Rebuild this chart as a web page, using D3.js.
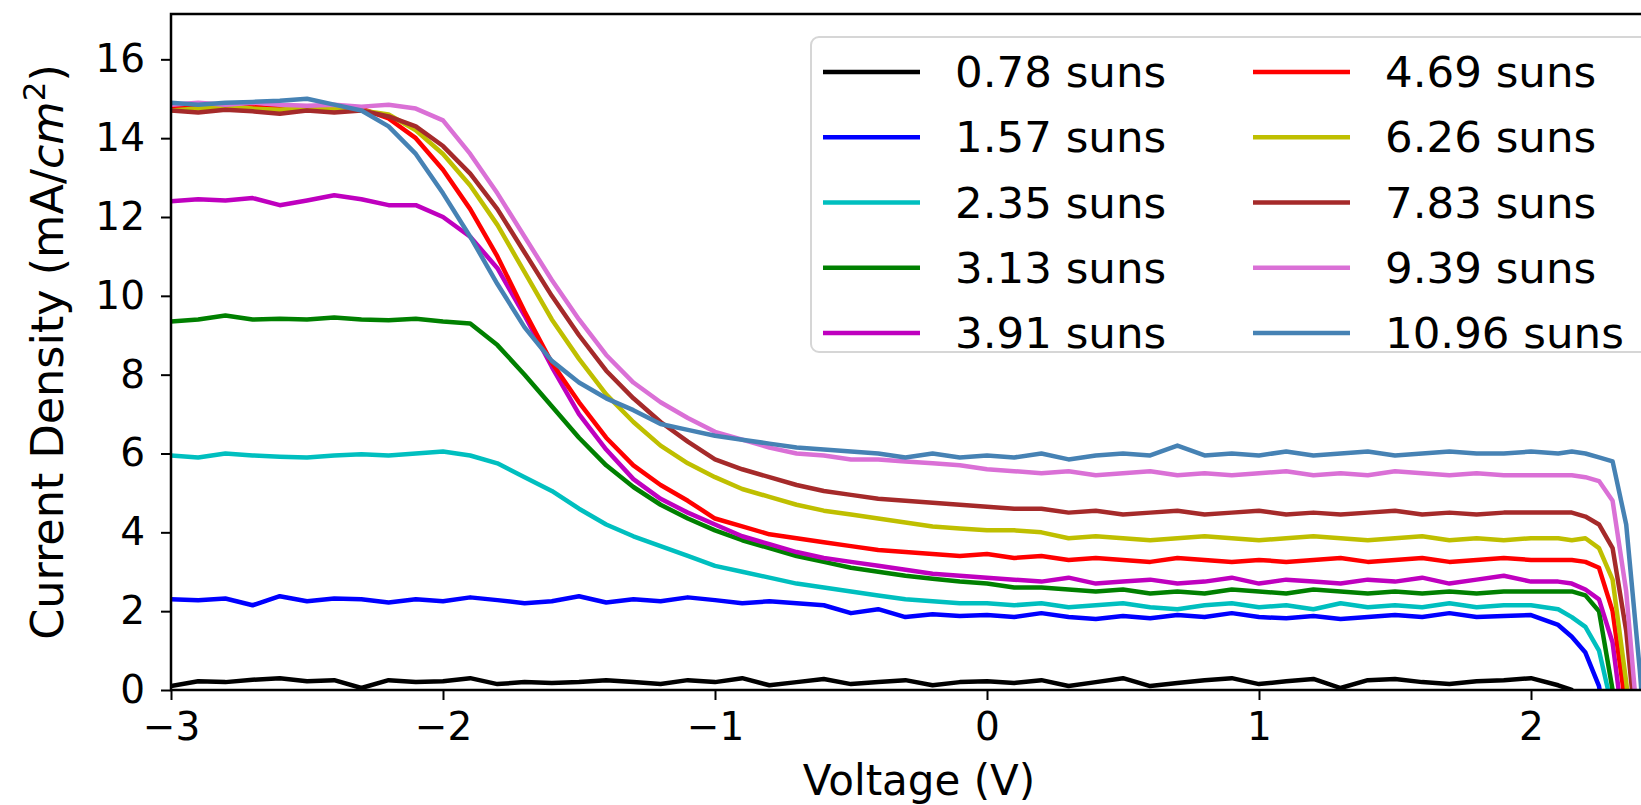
<!DOCTYPE html>
<html>
<head>
<meta charset="utf-8">
<script src="https://cdn.jsdelivr.net/npm/d3@7"></script>
<style>
  html, body { margin: 0; padding: 0; background: #fff; }
  svg { display: block; font-family: "DejaVu Sans", sans-serif; }
</style>
</head>
<body>
<svg id="chart"></svg>
<script>
// bias voltage (V), finer steps near the cut-off
const voltage = [-3.0,-2.9,-2.8,-2.7,-2.6,-2.5,-2.4,-2.3,-2.2,-2.1,
  -2.0,-1.9,-1.8,-1.7,-1.6,-1.5,-1.4,-1.3,-1.2,-1.1,
  -1.0,-0.9,-0.8,-0.7,-0.6,-0.5,-0.4,-0.3,-0.2,-0.1,
  0.0,0.1,0.2,0.3,0.4,0.5,0.6,0.7,0.8,0.9,
  1.0,1.1,1.2,1.3,1.4,1.5,1.6,1.7,1.8,1.9,
  2.0,2.1,2.15,2.2,2.25,2.3,2.35,2.4,2.45,2.5];

// current density (mA/cm2) per illumination level
const j078 = [0.10,0.22,0.20,0.26,0.30,0.22,0.25,0.05,0.25,0.20,
  0.22,0.30,0.15,0.20,0.18,0.20,0.25,0.20,0.15,0.25,
  0.20,0.30,0.12,0.20,0.28,0.15,0.20,0.25,0.12,0.20,
  0.22,0.18,0.25,0.10,0.20,0.30,0.10,0.18,0.25,0.30,
  0.15,0.22,0.28,0.05,0.25,0.28,0.20,0.15,0.22,0.25,
  0.30,0.12,0.00,-0.60,-1.5,-3.0,-5.0,-7.0,-9.0,-11.0];
const j157 = [2.30,2.28,2.32,2.15,2.38,2.25,2.32,2.30,2.22,2.30,
  2.25,2.35,2.28,2.20,2.25,2.38,2.22,2.30,2.25,2.35,
  2.28,2.20,2.25,2.20,2.15,1.95,2.05,1.85,1.92,1.88,
  1.90,1.85,1.95,1.85,1.80,1.88,1.82,1.90,1.85,1.95,
  1.85,1.82,1.88,1.80,1.85,1.90,1.85,1.95,1.85,1.88,
  1.90,1.65,1.35,0.95,0.10,-2.0,-5.0,-8.0,-11.0,-14.0];
const j235 = [5.95,5.90,6.00,5.95,5.92,5.90,5.95,5.98,5.95,6.00,
  6.05,5.95,5.75,5.40,5.05,4.60,4.20,3.90,3.65,3.40,
  3.15,3.00,2.85,2.70,2.60,2.50,2.40,2.30,2.25,2.20,
  2.20,2.15,2.20,2.10,2.15,2.20,2.10,2.05,2.15,2.20,
  2.10,2.15,2.05,2.20,2.10,2.15,2.10,2.20,2.10,2.15,
  2.15,2.05,1.85,1.60,1.00,-0.5,-3.0,-6.0,-9.0,-12.0];
const j313 = [9.35,9.40,9.50,9.40,9.42,9.40,9.45,9.40,9.38,9.42,
  9.35,9.30,8.75,8.00,7.20,6.40,5.70,5.15,4.70,4.35,
  4.05,3.80,3.60,3.40,3.25,3.10,3.00,2.90,2.82,2.75,
  2.70,2.60,2.60,2.55,2.50,2.55,2.45,2.50,2.45,2.55,
  2.50,2.45,2.55,2.50,2.45,2.50,2.45,2.50,2.45,2.50,
  2.50,2.50,2.50,2.40,2.00,0.00,-3.0,-6.0,-9.0,-12.0];
const j391 = [12.40,12.45,12.42,12.48,12.30,12.42,12.55,12.45,12.30,12.30,
  12.00,11.50,10.70,9.50,8.20,7.00,6.10,5.35,4.85,4.50,
  4.20,3.90,3.70,3.50,3.35,3.25,3.15,3.05,2.95,2.90,
  2.85,2.80,2.75,2.85,2.70,2.75,2.80,2.70,2.75,2.85,
  2.70,2.80,2.75,2.70,2.80,2.75,2.85,2.70,2.80,2.90,
  2.75,2.75,2.70,2.55,2.30,1.20,-1.5,-5.0,-9.0,-13.0];
const j469 = [14.75,14.80,14.75,14.80,14.75,14.80,14.75,14.75,14.50,14.00,
  13.20,12.20,11.00,9.60,8.30,7.30,6.40,5.70,5.20,4.80,
  4.35,4.15,3.95,3.85,3.75,3.65,3.55,3.50,3.45,3.40,
  3.45,3.35,3.40,3.30,3.35,3.30,3.25,3.35,3.30,3.25,
  3.30,3.25,3.30,3.35,3.25,3.30,3.35,3.25,3.30,3.35,
  3.30,3.30,3.30,3.25,3.10,2.00,-0.5,-4.0,-8.0,-12.0];
const j626 = [14.70,14.75,14.80,14.75,14.72,14.78,14.75,14.70,14.60,14.20,
  13.60,12.80,11.80,10.60,9.40,8.40,7.50,6.80,6.20,5.75,
  5.40,5.10,4.90,4.70,4.55,4.45,4.35,4.25,4.15,4.10,
  4.05,4.05,4.00,3.85,3.90,3.85,3.80,3.85,3.90,3.85,
  3.80,3.85,3.90,3.85,3.80,3.85,3.90,3.80,3.85,3.80,
  3.85,3.85,3.80,3.85,3.60,2.80,0.20,-3.0,-7.0,-11.0];
const j783 = [14.70,14.65,14.72,14.68,14.62,14.70,14.65,14.70,14.55,14.30,
  13.80,13.10,12.20,11.10,10.00,9.00,8.10,7.40,6.80,6.30,
  5.85,5.60,5.40,5.20,5.05,4.95,4.85,4.80,4.75,4.70,
  4.65,4.60,4.60,4.50,4.55,4.45,4.50,4.55,4.45,4.50,
  4.55,4.45,4.50,4.45,4.50,4.55,4.45,4.50,4.45,4.50,
  4.50,4.50,4.50,4.40,4.20,3.60,1.50,-2.0,-6.0,-10.0];
const j939 = [14.85,14.90,14.85,14.90,14.85,14.82,14.85,14.80,14.85,14.75,
  14.45,13.60,12.60,11.50,10.40,9.40,8.50,7.80,7.30,6.90,
  6.55,6.35,6.15,6.00,5.95,5.85,5.85,5.80,5.75,5.70,
  5.60,5.55,5.50,5.55,5.45,5.50,5.55,5.45,5.50,5.45,
  5.50,5.55,5.45,5.50,5.45,5.55,5.50,5.45,5.50,5.45,
  5.45,5.45,5.45,5.40,5.30,4.80,2.50,-1.5,-5.0,-9.0];
const j1096 = [14.90,14.85,14.90,14.92,14.95,15.00,14.85,14.70,14.30,13.60,
  12.60,11.50,10.30,9.20,8.35,7.80,7.40,7.10,6.75,6.60,
  6.45,6.35,6.25,6.15,6.10,6.05,6.00,5.90,6.00,5.90,
  5.95,5.90,6.00,5.85,5.95,6.00,5.95,6.20,5.95,6.00,
  5.95,6.05,5.95,6.00,6.05,5.95,6.00,6.05,6.00,6.00,
  6.05,6.00,6.05,6.00,5.90,5.80,4.20,0.50,-4.0,-8.0];

const labels = ["0.78 suns","1.57 suns","2.35 suns","3.13 suns","3.91 suns",
  "4.69 suns","6.26 suns","7.83 suns","9.39 suns","10.96 suns"];
const colors = ["#000000","#0000ff","#00bfbf","#008000","#bf00bf",
  "#ff0000","#bfbf00","#a52a2a","#da70d6","#4682b4"];
const seriesValues = [j078,j157,j235,j313,j391,j469,j626,j783,j939,j1096];

const xTicks = [-3,-2,-1,0,1,2];
const yTicks = [0,2,4,6,8,10,12,14,16];

const width = 1641, height = 805;
// the plot area runs past the right edge of the picture (cropped figure)
const plot = {left: 171, top: 14, right: 1667, bottom: 690};

const svg = d3.select("#chart")
  .attr("width", width)
  .attr("height", height);

const x = d3.scaleLinear().domain([-3, 2.5]).range([plot.left, plot.right]);
const y = d3.scaleLinear().domain([0, 17.15]).range([plot.bottom, plot.top]);

svg.append("defs").append("clipPath").attr("id", "plotclip")
  .append("rect")
  .attr("x", plot.left).attr("y", plot.top)
  .attr("width", plot.right - plot.left).attr("height", plot.bottom - plot.top);

const series = seriesValues.map((vals, i) => ({
  label: labels[i],
  color: colors[i],
  points: voltage.map((v, k) => ({v: v, j: vals[k]}))
}));

const line = d3.line().x(d => x(d.v)).y(d => y(d.j));

svg.append("g")
  .attr("clip-path", "url(#plotclip)")
  .selectAll("path")
  .data(series)
  .join("path")
  .attr("d", d => line(d.points))
  .attr("fill", "none")
  .attr("stroke", d => d.color)
  .attr("stroke-width", 4.5)
  .attr("stroke-linejoin", "round");

// axes
const minus = s => String(s).replace("-", "\u2212");

const xAxis = svg.append("g")
  .attr("transform", `translate(0,${plot.bottom})`)
  .call(d3.axisBottom(x).tickValues(xTicks).tickSize(10).tickPadding(12).tickFormat(minus));
const yAxis = svg.append("g")
  .attr("transform", `translate(${plot.left},0)`)
  .call(d3.axisLeft(y).tickValues(yTicks).tickSize(10).tickPadding(16).tickFormat(minus));

[xAxis, yAxis].forEach(a => {
  a.select(".domain").remove();
  a.selectAll(".tick line").attr("stroke", "#000").attr("stroke-width", 2);
  a.selectAll(".tick text")
    .attr("fill", "#000")
    .style("font-family", "'DejaVu Sans', sans-serif")
    .style("font-size", "39px");
});

// frame
svg.append("rect")
  .attr("x", plot.left).attr("y", plot.top)
  .attr("width", plot.right - plot.left).attr("height", plot.bottom - plot.top)
  .attr("fill", "none").attr("stroke", "#000").attr("stroke-width", 2.5);

// axis labels
svg.append("text")
  .attr("x", (plot.left + plot.right) / 2)
  .attr("y", 795)
  .attr("text-anchor", "middle")
  .style("font-size", "42px")
  .text("Voltage (V)");

const yl = svg.append("text")
  .attr("transform", `translate(63,${(plot.top + plot.bottom) / 2}) rotate(-90)`)
  .attr("text-anchor", "middle")
  .style("font-size", "44.5px");
yl.append("tspan").text("Current Density (mA/");
yl.append("tspan").style("font-style", "italic").text("cm");
yl.append("tspan").attr("dy", -18).style("font-size", "31px").text("2");
yl.append("tspan").attr("dy", 18).text(")");

// legend, two columns of five
const legend = svg.append("g");
legend.append("rect")
  .attr("x", 811).attr("y", 37)
  .attr("width", 860).attr("height", 315)
  .attr("rx", 8)
  .attr("fill", "#fff").attr("fill-opacity", 0.8)
  .attr("stroke", "#d6d6d6").attr("stroke-width", 2);

const colX = [823, 1253];
const rowY = d3.scaleLinear().domain([0, 4]).range([72, 333]);

const items = legend.selectAll("g.item")
  .data(series)
  .join("g")
  .attr("class", "item")
  .attr("transform", (d, i) => `translate(${colX[Math.floor(i / 5)]},${rowY(i % 5)})`);

items.append("line")
  .attr("x1", 0).attr("x2", 97)
  .attr("y1", 0).attr("y2", 0)
  .attr("stroke", d => d.color)
  .attr("stroke-width", 4.5);

items.append("text")
  .attr("x", 132)
  .attr("y", 15)
  .style("font-size", "43.5px")
  .attr("fill", "#000")
  .text(d => d.label);
</script>
</body>
</html>
